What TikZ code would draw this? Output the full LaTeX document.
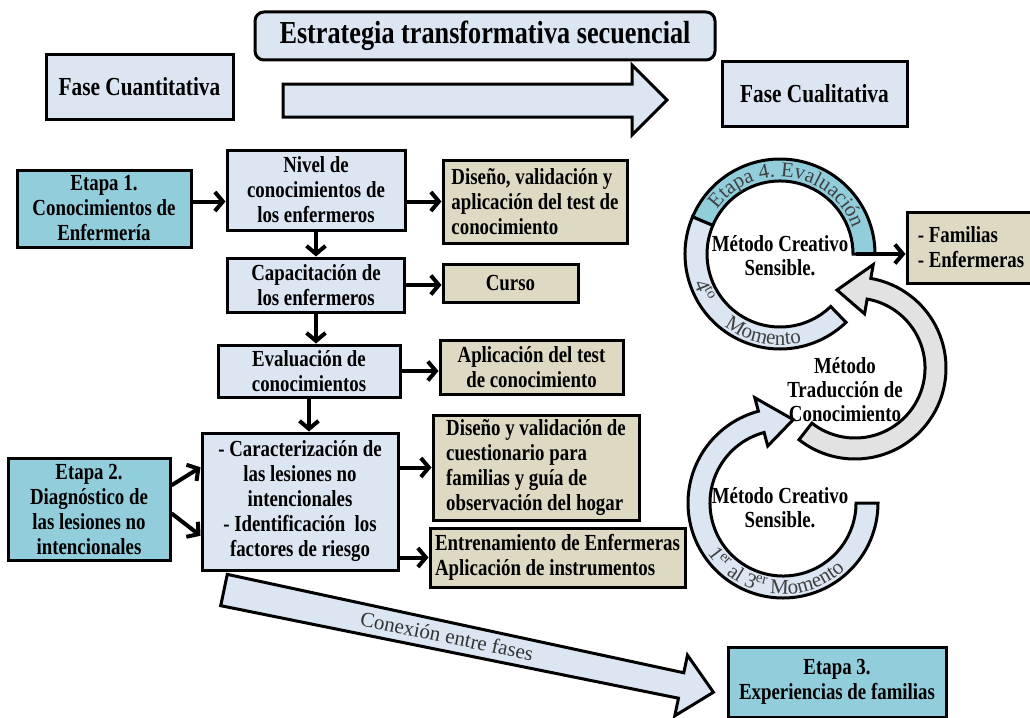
\documentclass[tikz,border=0pt]{standalone}
\usepackage{fontspec}
\setmainfont{Liberation Serif}[BoldFeatures={FakeStretch=0.82}]
\usetikzlibrary{arrows.meta,calc,decorations.text}
\definecolor{azulclaro}{HTML}{DCE6F2}
\definecolor{aguamarina}{HTML}{92CDDC}
\definecolor{arena}{HTML}{DDD9C3}
\definecolor{grisanillo}{HTML}{E2E2E2}

\begin{document}
\begin{tikzpicture}[x=1pt, y=1pt,
        caja/.style = {draw, line width=3pt, fill=#1, align=center, inner sep=2pt, font=\fontsize{23}{25}\selectfont\bfseries},
        caja/.default = azulclaro,
        flecha/.style = {line width=4pt, -{Straight Barb[length=8pt, width=19pt]}},
        anillo/.style = {draw, line width=3pt, fill=#1},
        rotulo/.style = {decorate, decoration={text along path, text align=center, text={#1}}}]
    \useasboundingbox (0,0) rectangle (1030,-717);

    % cabecera
    \node[caja, rounded corners=9pt, minimum width=460, minimum height=48, font=\fontsize{32}{34}\selectfont\bfseries] (titulo) at (485,-36) {Estrategia transformativa secuencial};
    \node[caja, minimum width=187, minimum height=64, font=\fontsize{26}{28}\selectfont\bfseries] (cuanti) at (139.5,-87) {Fase Cuantitativa};
    \node[caja, minimum width=185, minimum height=64, font=\fontsize{26}{28}\selectfont\bfseries] (cuali) at (814.5,-94) {Fase Cualitativa};
    \draw[line width=3pt, fill=azulclaro] (283,-84) -- (632,-84) -- (632,-65) -- (667,-100) -- (632,-135) -- (632,-117) -- (283,-117) -- cycle;

    % fase cuantitativa
    \node[caja=aguamarina, minimum width=174, minimum height=77] (etapa1) at (104,-208.5) {Etapa 1.\\Conocimientos de\\Enfermería};
    \node[caja, minimum width=178, minimum height=80] (nivel) at (316,-190) {Nivel de\\conocimientos de\\los enfermeros};
    \node[caja=arena, align=left, minimum width=184, minimum height=83] (diseno1) at (535,-201.5) {Diseño, validación y\\aplicación del test de\\conocimiento};
    \node[caja, minimum width=177, minimum height=54] (capac) at (316,-285) {Capacitación de\\los enfermeros};
    \node[caja=arena, minimum width=135, minimum height=38] (curso) at (510.5,-283) {Curso};
    \node[caja, minimum width=182, minimum height=52] (evalua) at (309,-371) {Evaluación de\\conocimientos};
    \node[caja=arena, minimum width=183, minimum height=54] (aplic) at (531.5,-367) {Aplicación del test\\de conocimiento};
    \node[caja, minimum width=196, minimum height=137] (caract) at (300,-501.5) {- Caracterización de\\las lesiones no\\intencionales\\- Identificación~ los\\factores de riesgo};
    \node[caja=aguamarina, minimum width=162, minimum height=102] (etapa2) at (89,-509) {Etapa 2.\\Diagnóstico de\\las lesiones no\\intencionales};
    \node[caja=arena, align=left, minimum width=206, minimum height=105] (diseno2) at (536,-467.5) {Diseño y validación de\\cuestionario para\\familias y guía de\\observación del hogar};
    \node[caja=arena, align=left, minimum width=255, minimum height=59] (entren) at (557.5,-557.5) {Entrenamiento de Enfermeras\\Aplicación de instrumentos};

    \draw[flecha] (etapa1.east |- diseno1.west) -- (nivel.west |- diseno1.west);
    \draw[flecha] (nivel.east |- diseno1.west) -- (diseno1.west);
    \draw[flecha] (nivel.south) -- (nivel.south |- capac.north);
    \draw[flecha] (capac.east) -- (capac.east -| curso.west);
    \draw[flecha] (capac.south) -- (capac.south |- evalua.north);
    \draw[flecha] (evalua.east) -- (evalua.east -| aplic.west);
    \draw[flecha] (evalua.south) -- (evalua.south |- caract.north);
    \draw[flecha] (etapa2.16) -- (caract.161);
    \draw[flecha] (etapa2.-3) -- (caract.199);
    \draw[flecha] (caract.east |- diseno2.west) -- (diseno2.west);
    \draw[flecha] (caract.east |- entren.west) -- (entren.west);

    % conexion entre fases
    \begin{scope}[shift={(224,-590)}, rotate=-11.8]
        \draw[line width=3pt, fill=azulclaro] (0,16) -- (467,13) -- (467,31) -- (500,0) -- (467,-31) -- (467,-13) -- (0,-16) -- cycle;
    \end{scope}
    \node[rotate=-11.8, font=\fontsize{21}{21}\selectfont, text=black!80] (conexion) at (447,-636) {Conexión entre fases};
    \node[caja=aguamarina, minimum width=218, minimum height=70] (etapa3) at (837,-682) {Etapa 3.\\Experiencias de familias};

    % fase cualitativa: anillos
    \coordinate (T) at (780,-254);
    \coordinate (G) at (855,-368);
    \coordinate (B) at (783,-503);
    \draw[anillo=aguamarina] ($(T)+(0:95)$) arc[start angle=0, end angle=157, radius=95] -- ($(T)+(157:73)$) arc[start angle=157, end angle=0, radius=73] -- cycle;
    \draw[anillo=azulclaro] ($(T)+(157:95)$) arc[start angle=157, end angle=314, radius=95] -- ($(T)+(314:73)$) arc[start angle=314, end angle=157, radius=73] -- cycle;
    \draw[anillo=azulclaro] ($(B)+(0:95)$) arc[start angle=0, end angle=-255, radius=95] -- ($(B)+(-255:109)$) -- ($(B)+(-277:84)$) -- ($(B)+(-255:59)$) -- ($(B)+(-255:73)$) arc[start angle=-255, end angle=0, radius=73] -- cycle;
    \draw[anillo=grisanillo] ($(G)+(232:91)$) arc[start angle=232, end angle=440, radius=91] -- ($(G)+(80:105)$) -- ($(G)+(103:80)$) -- ($(G)+(80:55)$) -- ($(G)+(80:70)$) arc[start angle=440, end angle=232, radius=70] -- cycle;

    \path[rotulo={|\color{black!75}\fontsize{21}{21}\selectfont|Etapa 4. Evaluación}] ($(T)+(152:77)$) arc[start angle=152, end angle=12, radius=77];
    \path[rotulo={|\color{black!75}\fontsize{21}{21}\selectfont|4{\textsuperscript{to}}}] ($(T)+(194:91)$) arc[start angle=194, end angle=218, radius=91];
    \path[rotulo={|\color{black!75}\fontsize{21}{21}\selectfont|Momento}] ($(T)+(226:91)$) arc[start angle=226, end angle=290, radius=91];
    \path[rotulo={|\color{black!75}\fontsize{21}{21}\selectfont|1{\textsuperscript{er}} al 3{\textsuperscript{er}} Momento}] ($(B)+(205:91)$) arc[start angle=205, end angle=322, radius=91];

    \node[font=\fontsize{23}{24}\selectfont\bfseries, align=center] (mcs4) at (780,-256) {Método Creativo\\Sensible.};
    \node[font=\fontsize{23}{24}\selectfont\bfseries, align=center] (mtc) at (845,-390) {Método\\Traducción de\\Conocimiento};
    \node[font=\fontsize{23}{24}\selectfont\bfseries, align=center] (mcs13) at (780,-508) {Método Creativo\\Sensible.};

    \node[caja=arena, align=left, minimum width=128, minimum height=71] (familias) at (971,-247.5) {- Familias\\- Enfermeras};
    \coordinate (fin) at ($(T)+(0:76)$);
    \draw[flecha] (fin) -- (fin -| familias.west);
\end{tikzpicture}
\end{document}
